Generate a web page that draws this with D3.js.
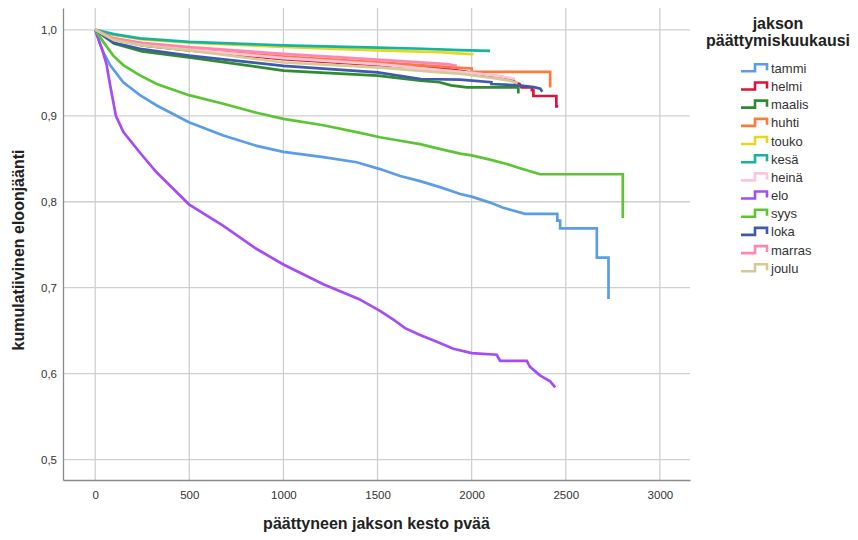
<!DOCTYPE html>
<html><head><meta charset="utf-8">
<script src="https://cdn.jsdelivr.net/npm/d3@7"></script>
<style>body{margin:0;background:#fff}svg{display:block}</style>
</head><body><svg id="c" width="858" height="540"></svg>
<script>
const months = ["tammi","helmi","maalis","huhti","touko","kesä","heinä","elo","syys","loka","marras","joulu"];
const colors = ["#5b9de8","#dc143c","#2e8b2e","#ff7a3a","#e6d81e","#16b3a0","#ffc4de","#a64cf4","#5cc534","#3d5aad","#ff86b4","#d3ca94"];
const xTicks = [0,500,1000,1500,2000,2500,3000];
const yTicks = [0.5,0.6,0.7,0.8,0.9,1.0];

const tammi = [[0,1],[25,0.984],[43,0.974],[79,0.959],[149,0.939],[238,0.924],[327,0.912],[498,0.8925],[681,0.877],[858,0.865],[1000,0.858],[1212,0.852],[1389,0.846],[1513,0.838],[1620,0.830],[1726,0.824],[1832,0.817],[1939,0.809],[2000,0.806],[2098,0.799],[2168,0.793],[2284,0.786],[2455,0.786],[2455,0.778],[2470,0.778],[2470,0.769],[2665,0.769],[2665,0.735],[2727,0.735],[2727,0.687]];
const helmi = [[0,1],[100,0.989],[250,0.982],[500,0.976],[1000,0.966],[1500,0.959],[1850,0.955],[1975,0.951],[2060,0.947],[2150,0.946],[2220,0.942],[2230,0.939],[2255,0.937],[2265,0.933],[2320,0.933],[2320,0.930],[2328,0.930],[2328,0.923],[2450,0.923],[2450,0.911],[2460,0.911]];
const maalis = [[0,1],[100,0.984],[250,0.975],[498,0.968],[1000,0.9526],[1500,0.9467],[1730,0.941],[1830,0.939],[1890,0.9354],[1975,0.933],[2248,0.933],[2248,0.926]];
const huhti = [[0,1],[100,0.990],[250,0.984],[500,0.977],[1000,0.969],[1500,0.9623],[1900,0.9564],[2000,0.955],[2000,0.951],[2417,0.951],[2417,0.933]];
const touko = [[0,1],[100,0.994],[250,0.989],[500,0.985],[1000,0.980],[1500,0.976],[1830,0.974],[1945,0.9724],[2010,0.9716]];
const kesa = [[0,1],[100,0.995],[238,0.990],[498,0.986],[1000,0.982],[1499,0.9794],[1743,0.978],[1938,0.9763],[2098,0.9755]];
const heina = [[0,1],[100,0.989],[250,0.983],[500,0.977],[1000,0.967],[1500,0.960],[2000,0.950],[2150,0.946],[2230,0.943]];
const elo = [[0,1],[40,0.975],[60,0.96],[80,0.935],[110,0.90],[150,0.881],[238,0.857],[327,0.834],[397,0.819],[498,0.797],[681,0.772],[858,0.745],[1000,0.727],[1212,0.704],[1400,0.687],[1513,0.673],[1584,0.663],[1646,0.653],[1726,0.645],[1815,0.637],[1903,0.629],[2000,0.624],[2133,0.622],[2151,0.615],[2293,0.615],[2310,0.608],[2363,0.598],[2417,0.591],[2444,0.584]];
const syys = [[0,1],[43,0.986],[96,0.970],[149,0.959],[238,0.947],[327,0.937],[498,0.924],[681,0.914],[858,0.9035],[1000,0.8965],[1212,0.889],[1389,0.881],[1513,0.875],[1620,0.871],[1726,0.867],[1841,0.861],[1939,0.856],[2000,0.854],[2098,0.849],[2186,0.844],[2257,0.839],[2363,0.832],[2803,0.832],[2803,0.781]];
const loka = [[0,1],[100,0.985],[238,0.978],[498,0.970],[1000,0.958],[1500,0.9506],[1730,0.9428],[1938,0.942],[2105,0.939],[2105,0.937],[2250,0.9354],[2330,0.9334],[2365,0.9315],[2375,0.928]];
const marras = [[0,1],[100,0.990],[250,0.985],[500,0.9798],[1000,0.972],[1500,0.9654],[1870,0.960],[1921,0.958]];
const joulu = [[0,1],[100,0.988],[250,0.982],[500,0.976],[1000,0.962],[1500,0.9564],[1870,0.950],[1938,0.949],[2110,0.944],[2200,0.941],[2245,0.938]];
const seriesData = [tammi,helmi,maalis,huhti,touko,kesa,heina,elo,syys,loka,marras,joulu];

const svg = d3.select("#c");
const L = 63, R = 690, T = 8, B = 480;
const x = d3.scaleLinear().domain([-171, 3160]).range([L, R]);
const y = d3.scaleLinear().domain([0.4763, 1.0254]).range([B, T]);
const font = "'Liberation Sans', Arial, sans-serif";

// grid
const g = svg.append("g");
g.selectAll("line.vx").data(xTicks).join("line")
  .attr("x1", d => x(d)).attr("x2", d => x(d)).attr("y1", T).attr("y2", B)
  .attr("stroke", "#cfcfcf").attr("stroke-width", 1.3);
g.selectAll("line.hy").data(yTicks).join("line")
  .attr("y1", d => y(d)).attr("y2", d => y(d)).attr("x1", L).attr("x2", R)
  .attr("stroke", "#cfcfcf").attr("stroke-width", 1.3);

// axes
const xa = svg.append("g").attr("transform", `translate(0,${B})`)
  .call(d3.axisBottom(x).tickValues(xTicks).tickSize(0).tickPadding(11).tickFormat(d3.format("d")));
xa.select(".domain").attr("stroke", "#8a8a8a").attr("stroke-width", 1.3);
xa.selectAll("text").attr("font-family", font).attr("font-size", 11.5).attr("fill", "#333");
const ya = svg.append("g").attr("transform", `translate(${L},0)`)
  .call(d3.axisLeft(y).tickValues(yTicks).tickSize(0).tickPadding(6).tickFormat(d => d3.format(".1f")(d).replace(".", ",")));
ya.select(".domain").attr("stroke", "#8a8a8a").attr("stroke-width", 1.3);
ya.selectAll("text").attr("font-family", font).attr("font-size", 11.5).attr("fill", "#333");

// lines
const line = d3.line().x(d => x(d[0])).y(d => y(d[1])).curve(d3.curveLinear);
svg.append("g").selectAll("path").data(seriesData).join("path")
  .attr("d", line).attr("fill", "none")
  .attr("stroke", (d, i) => colors[i]).attr("stroke-width", 2.7)
  .attr("stroke-linejoin", "miter");

// titles
svg.append("text").attr("x", (L + R) / 2).attr("y", 529).attr("text-anchor", "middle")
  .attr("font-family", font).attr("font-weight", "bold").attr("font-size", 16).attr("fill", "#222")
  .text("päättyneen jakson kesto pvää");
svg.append("text").attr("transform", `translate(24,250) rotate(-90)`).attr("text-anchor", "middle")
  .attr("font-family", font).attr("font-weight", "bold").attr("font-size", 16).attr("fill", "#222")
  .text("kumulatiivinen eloonjäänti");

// legend
const lg = svg.append("g");
lg.append("text").attr("x", 778).attr("y", 29).attr("text-anchor", "middle")
  .attr("font-family", font).attr("font-weight", "bold").attr("font-size", 16).attr("fill", "#222").text("jakson");
lg.append("text").attr("x", 778).attr("y", 46).attr("text-anchor", "middle")
  .attr("font-family", font).attr("font-weight", "bold").attr("font-size", 16).attr("fill", "#222").text("päättymiskuukausi");
const items = lg.selectAll("g.it").data(months).join("g")
  .attr("transform", (d, i) => `translate(0,${68.3 + i * 18.18})`);
items.append("path").attr("d", "M741,3 H755 V-4 H767 V2").attr("fill", "none")
  .attr("stroke", (d, i) => colors[i]).attr("stroke-width", 2.6);
items.append("text").attr("x", 771).attr("y", 4.5).attr("font-family", font).attr("font-size", 13).attr("fill", "#333").text(d => d);
</script></body></html>
